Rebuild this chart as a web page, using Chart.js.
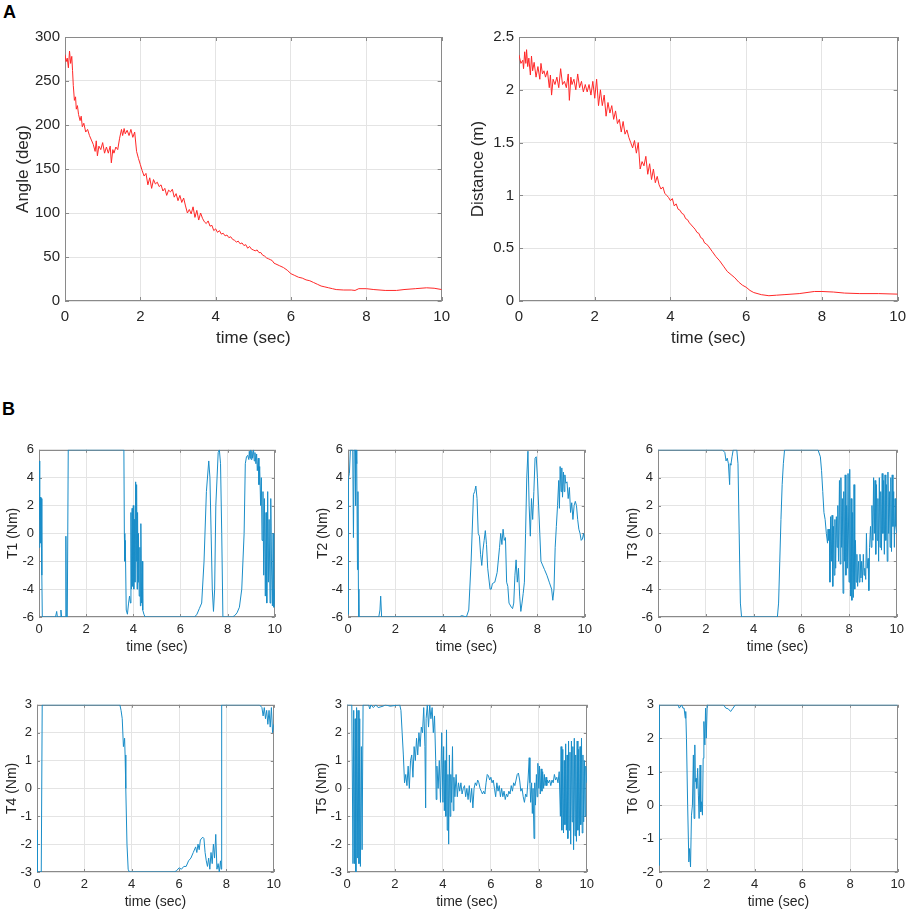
<!DOCTYPE html>
<html>
<head>
<meta charset="utf-8">
<script src="https://cdn.jsdelivr.net/npm/chart.js@4.4.1/dist/chart.umd.min.js"></script>
<style>
  html, body { margin: 0; padding: 0; background: #fff; }
  body { width: 913px; height: 913px; position: relative; overflow: hidden; font-family: "Liberation Sans", Arial, sans-serif; }
  .panel { position: absolute; }
  .tag { position: absolute; font-weight: bold; font-size: 18px; color: #000; line-height: 1; }
</style>
</head>
<body>
<div class="tag" style="left:3px;top:3px">A</div>
<div class="tag" style="left:2px;top:400px">B</div>
<div class="panel" id="p_angle"><canvas id="c_angle"></canvas></div>
<div class="panel" id="p_dist"><canvas id="c_dist"></canvas></div>
<div class="panel" id="p_t1"><canvas id="c_t1"></canvas></div>
<div class="panel" id="p_t2"><canvas id="c_t2"></canvas></div>
<div class="panel" id="p_t3"><canvas id="c_t3"></canvas></div>
<div class="panel" id="p_t4"><canvas id="c_t4"></canvas></div>
<div class="panel" id="p_t5"><canvas id="c_t5"></canvas></div>
<div class="panel" id="p_t6"><canvas id="c_t6"></canvas></div>
<script>
// tick values
const timeTicks = [0, 2, 4, 6, 8, 10];
const angleTicks = [0, 50, 100, 150, 200, 250, 300];
const distTicks = [0, 0.5, 1, 1.5, 2, 2.5];
const torque6Ticks = [-6, -4, -2, 0, 2, 4, 6];
const torque3Ticks = [-3, -2, -1, 0, 1, 2, 3];
const t6Ticks = [-2, -1, 0, 1, 2, 3];

// [time (sec), value]
const angle = [[0,280],[0.03,272],[0.06,276],[0.09,265],[0.12,284],[0.15,270],[0.18,278],[0.2,262],[0.22,245],[0.25,228],
  [0.28,232],[0.3,218],[0.33,222],[0.36,212],[0.4,205],[0.43,210],[0.46,198],[0.5,202],[0.55,192],[0.6,195],[0.65,188],
  [0.7,183],[0.75,178],[0.8,170],[0.83,182],[0.86,165],[0.9,176],[0.95,172],[1.0,180],[1.05,168],[1.1,175],[1.15,168],
  [1.2,176],[1.23,157],[1.27,172],[1.3,168],[1.35,175],[1.4,172],[1.45,185],[1.5,195],[1.53,188],[1.57,196],[1.6,190],
  [1.65,194],[1.7,188],[1.75,195],[1.8,186],[1.85,192],[1.9,170],[1.95,162],[2.0,155],[2.05,148],[2.1,142],[2.15,145],
  [2.2,132],[2.25,140],[2.3,128],[2.35,138],[2.4,133],[2.45,135],[2.5,130],[2.55,132],[2.6,125],[2.65,128],[2.7,120],
  [2.75,126],[2.8,124],[2.85,127],[2.9,118],[2.95,122],[3.0,114],[3.05,120],[3.1,112],[3.15,117],[3.2,108],[3.25,100],
  [3.3,104],[3.35,99],[3.4,107],[3.45,95],[3.5,103],[3.55,92],[3.6,100],[3.65,94],[3.7,90],[3.75,88],[3.8,91],[3.85,85],
  [3.9,86],[3.95,80],[4.0,82],[4.05,78],[4.1,80],[4.15,76],[4.2,77],[4.25,74],[4.3,75],[4.35,72],[4.4,73],[4.45,70],
  [4.5,69],[4.55,67],[4.6,68],[4.65,65],[4.7,66],[4.75,63],[4.8,64],[4.85,60],[4.9,62],[4.95,59],[5.0,58],[5.05,57],
  [5.1,58],[5.15,55],[5.2,55],[5.25,52],[5.3,51],[5.35,49],[5.4,48],[5.45,47],[5.5,46],[5.55,43],[5.6,42],[5.7,40],
  [5.8,38],[5.9,35],[6.0,31],[6.1,29],[6.2,27],[6.3,26],[6.4,24],[6.5,23],[6.6,21],[6.7,19],[6.8,17],[6.9,16],[7.0,15],
  [7.1,14],[7.2,13],[7.4,12.5],[7.6,12.5],[7.7,12],[7.8,14],[8.0,14],[8.2,13],[8.5,12],[8.8,12],[9.0,13],[9.3,14],
  [9.6,15],[9.8,14.5],[10,13]];

const distance = [[0,2.33],[0.05,2.25],[0.1,2.28],[0.12,2.2],[0.15,2.36],[0.18,2.25],[0.2,2.38],[0.23,2.22],[0.26,2.3],
  [0.3,2.14],[0.33,2.32],[0.36,2.18],[0.4,2.26],[0.45,2.12],[0.5,2.22],[0.55,2.1],[0.58,2.25],[0.62,2.15],[0.66,2.18],
  [0.7,2.12],[0.75,2.18],[0.8,2.02],[0.83,2.14],[0.86,1.95],[0.9,2.1],[0.95,2.05],[1.0,2.12],[1.05,2.02],[1.1,2.2],
  [1.15,2.05],[1.2,2.08],[1.25,2.02],[1.3,2.15],[1.33,1.9],[1.37,2.12],[1.4,2.05],[1.45,2.1],[1.5,2.0],[1.55,2.15],
  [1.6,2.02],[1.65,2.08],[1.7,1.98],[1.75,2.05],[1.8,1.98],[1.85,2.05],[1.9,1.95],[1.95,2.08],[2.0,1.92],[2.05,2.1],
  [2.1,1.85],[2.15,2.0],[2.2,1.85],[2.25,1.95],[2.3,1.75],[2.35,1.88],[2.4,1.78],[2.45,1.85],[2.5,1.72],[2.55,1.8],
  [2.6,1.68],[2.65,1.72],[2.7,1.6],[2.75,1.7],[2.8,1.58],[2.85,1.62],[2.9,1.55],[2.95,1.5],[3.0,1.45],[3.05,1.52],
  [3.1,1.4],[3.15,1.5],[3.2,1.25],[3.25,1.32],[3.3,1.28],[3.35,1.37],[3.4,1.2],[3.45,1.3],[3.5,1.15],[3.55,1.25],
  [3.6,1.12],[3.65,1.18],[3.7,1.1],[3.75,1.06],[3.8,1.08],[3.85,1.02],[3.9,1.0],[3.95,0.98],[4.0,0.95],[4.05,0.97],
  [4.1,0.9],[4.15,0.92],[4.2,0.87],[4.25,0.86],[4.3,0.83],[4.35,0.82],[4.4,0.78],[4.45,0.77],[4.5,0.74],[4.55,0.72],
  [4.6,0.7],[4.65,0.68],[4.7,0.65],[4.75,0.64],[4.8,0.6],[4.85,0.59],[4.9,0.55],[4.95,0.54],[5.0,0.52],[5.1,0.47],
  [5.2,0.42],[5.3,0.38],[5.4,0.33],[5.5,0.28],[5.6,0.25],[5.7,0.22],[5.8,0.18],[5.9,0.15],[6.0,0.13],[6.1,0.1],
  [6.2,0.08],[6.4,0.06],[6.6,0.05],[6.8,0.055],[7.0,0.06],[7.4,0.07],[7.8,0.09],[8.0,0.09],[8.3,0.085],[8.6,0.075],
  [9.0,0.07],[9.5,0.07],[10,0.065]];

const torque1 = [[0,-1],[0.02,5.2],[0.04,1],[0.06,2.6],[0.08,-0.7],[0.1,2.5],[0.12,-3],[0.14,-6],[0.7,-6],[0.75,-5.6],
  [0.78,-6],[0.9,-6],[0.93,-5.5],[0.96,-6],[1.12,-6],[1.14,-0.2],[1.16,-6],[1.2,-6],[1.24,6],[3.6,6],[3.62,0],[3.64,-2],
  [3.66,-0.5],[3.7,-5.5],[3.75,-5.8],[3.8,-5],[3.84,-4.5],[3.88,-5],[3.9,1.5],[3.92,-4],[3.95,1.8],[3.98,-3.8],[4.0,2],
  [4.02,-4],[4.05,1],[4.07,-3.5],[4.1,3.7],[4.12,-2],[4.14,3.5],[4.16,-4],[4.18,1.5],[4.2,-3.5],[4.22,0],[4.25,-4.5],
  [4.28,-1],[4.3,-5.2],[4.32,0.7],[4.35,-5],[4.38,-2],[4.4,-5.5],[4.45,-5.8],[4.5,-6],[6.6,-6],[6.7,-5.8],[6.8,-5.4],
  [6.9,-5],[7.0,-2],[7.1,3],[7.2,5.2],[7.25,4],[7.3,0],[7.35,-4],[7.4,-5.6],[7.45,-4],[7.5,2],[7.6,5.8],[7.65,6],
  [7.7,5],[7.75,0],[7.8,-6],[8.2,-6],[8.3,-5.9],[8.4,-5.7],[8.5,-5.3],[8.6,-4],[8.7,0],[8.75,5],[8.8,5.5],[8.85,5.6],
  [8.9,5.3],[8.92,5.9],[8.95,5.4],[8.98,6],[9.0,5.3],[9.03,5.9],[9.06,5.4],[9.1,6],[9.13,5.2],[9.16,5.8],[9.2,5],
  [9.23,5.7],[9.26,4.5],[9.3,5.4],[9.33,3.5],[9.36,4.8],[9.4,2],[9.43,4],[9.46,-0.5],[9.5,3],[9.53,-3],[9.56,2.5],
  [9.6,-4.5],[9.63,1.5],[9.66,-5],[9.7,3],[9.73,-3.5],[9.76,1],[9.8,-5],[9.83,2.5],[9.86,-2],[9.9,-5.2],[9.93,0],
  [9.96,-5.3],[10,-4]];

const torque2 = [[0,-5.8],[0.02,4],[0.06,4.3],[0.1,6],[0.2,6],[0.23,-0.3],[0.26,6],[0.3,6],[0.32,2],[0.34,6],[0.37,5],
  [0.4,-2.6],[0.42,3],[0.44,-4],[0.46,-6],[1.3,-6],[1.35,-5.5],[1.38,-4.5],[1.42,-6],[4.7,-6],[4.8,-5.9],[5.0,-6],
  [5.1,-5.5],[5.2,-2],[5.3,2.8],[5.35,3],[5.4,3.4],[5.45,2.5],[5.5,0],[5.55,-0.2],[5.6,-1.5],[5.65,-2.3],[5.7,-1.2],
  [5.75,-0.5],[5.8,0.2],[5.85,-0.8],[5.9,-2.5],[6.0,-4],[6.05,-4],[6.1,-3.6],[6.2,-3.5],[6.3,-2.8],[6.4,-1],[6.45,0],
  [6.5,-0.8],[6.55,0.3],[6.6,-0.5],[6.65,-0.3],[6.7,-3.5],[6.75,-3.8],[6.8,-5],[6.9,-5.3],[6.95,-5.4],[7.0,-5],
  [7.05,-3],[7.1,-1.9],[7.15,-3.5],[7.2,-2.5],[7.25,-4.5],[7.3,-5.6],[7.35,-5],[7.4,-4.3],[7.45,-3.5],[7.5,0],[7.55,4],
  [7.6,5.9],[7.65,2],[7.7,-0.2],[7.75,2.5],[7.8,1],[7.85,3],[7.9,5.4],[7.95,5.5],[8.0,4],[8.1,0],[8.15,-2],[8.2,-2.2],
  [8.3,-2.6],[8.4,-3],[8.5,-3.5],[8.6,-4],[8.65,-4.8],[8.7,-4],[8.75,-1],[8.8,0.5],[8.85,2],[8.9,3.8],[8.93,1.8],
  [8.96,4.8],[9.0,3],[9.03,4.7],[9.06,2.6],[9.1,4.4],[9.13,3],[9.16,4.2],[9.2,3.6],[9.25,3.7],[9.3,2.5],[9.35,3.3],
  [9.4,1.5],[9.45,2.2],[9.5,1],[9.55,2],[9.6,2.3],[9.65,2],[9.7,1],[9.75,0.3],[9.8,0],[9.85,-0.5],[9.9,-0.4],
  [9.95,0],[10,-0.5]];

const torque3 = [[0,6],[2.7,6],[2.8,5.8],[2.85,5.2],[2.9,5.4],[2.95,5],[3.0,3.5],[3.02,5],[3.05,4.9],[3.1,5.5],
  [3.15,6],[3.3,6],[3.35,5],[3.4,0],[3.45,-5],[3.5,-6],[5.0,-6],[5.05,-5],[5.1,-2],[5.15,1],[5.2,3.5],[5.25,5],
  [5.3,6],[6.7,6],[6.8,5.5],[6.85,4.5],[6.9,3],[6.95,1.5],[7.0,1],[7.05,0],[7.1,-0.7],[7.12,0.3],[7.15,-0.5],
  [7.18,0.3],[7.2,-3.5],[7.23,1.2],[7.26,-2],[7.29,1.3],[7.32,-3.8],[7.35,0.5],[7.38,-3],[7.41,1],[7.44,-2.5],
  [7.47,1.2],[7.5,-1],[7.53,2],[7.56,-2],[7.6,3.8],[7.63,-2.2],[7.66,4],[7.69,-1],[7.72,2.5],[7.75,-4.3],[7.78,3],
  [7.81,-2],[7.84,4.2],[7.87,-3],[7.9,2],[7.93,-2.5],[7.96,4.3],[8.0,-3.5],[8.03,4.6],[8.06,-4.5],[8.09,2.5],
  [8.12,-4.8],[8.15,1.5],[8.18,-4.6],[8.21,3.5],[8.24,-4],[8.27,-0.5],[8.3,-3.5],[8.33,-1.5],[8.36,-3.8],[8.4,-2],
  [8.43,-3.5],[8.46,-1.5],[8.5,-3.2],[8.53,-2],[8.56,-3.5],[8.6,-1.5],[8.63,-3],[8.66,-2.5],[8.7,-3.3],[8.73,0],
  [8.76,-2.5],[8.8,-1.8],[8.83,-4.1],[8.86,-1],[8.9,0.5],[8.93,-1],[8.96,2],[9.0,-0.5],[9.03,4],[9.06,0],[9.09,3.8],
  [9.12,-1.5],[9.15,3.5],[9.18,-0.5],[9.21,2.5],[9.24,-2],[9.27,4],[9.3,-1],[9.33,3],[9.36,-1.2],[9.39,4.3],[9.42,0],
  [9.45,3.8],[9.48,-1.5],[9.51,4.2],[9.54,-0.5],[9.57,3.5],[9.6,-2],[9.63,4.4],[9.66,0],[9.69,3],[9.72,-1],[9.75,4],
  [9.78,-1.3],[9.81,4.2],[9.84,0.5],[9.87,3],[9.9,-1],[9.93,2.5],[9.96,0.5],[10,0]];

const torque4 = [[0,-1.5],[0.02,-3],[0.18,-3],[0.22,3],[3.5,3],[3.55,2.8],[3.6,2.5],[3.65,1.5],[3.7,1.8],[3.72,1.2],
  [3.75,0],[3.8,-2],[3.85,-2.9],[3.9,-3],[5.8,-3],[5.9,-2.95],[6.0,-2.85],[6.1,-2.9],[6.2,-2.8],[6.3,-2.8],[6.4,-2.6],
  [6.5,-2.5],[6.6,-2.3],[6.7,-2.1],[6.75,-2.3],[6.8,-2],[6.85,-2.2],[6.9,-1.85],[7.0,-1.75],[7.05,-1.8],[7.1,-2.3],
  [7.15,-2.6],[7.2,-2.8],[7.25,-2.5],[7.3,-2.9],[7.35,-2.3],[7.4,-2.7],[7.45,-2],[7.5,-2.5],[7.55,-1.65],[7.6,-2.9],
  [7.65,-2.7],[7.7,-3],[7.75,-2.6],[7.78,-2.9],[7.8,3],[9.4,3],[9.5,2.9],[9.55,2.6],[9.6,2.9],[9.65,2.5],[9.7,2.8],
  [9.75,2.3],[9.8,2.8],[9.85,2.2],[9.9,2.9],[9.95,2],[10,2.3]];

const torque5 = [[0,3],[0.2,3],[0.25,-2.7],[0.28,2.8],[0.31,-2.7],[0.34,2.5],[0.37,-3],[0.4,2.9],[0.43,-2.5],[0.46,2.8],
  [0.5,-2.7],[0.53,2.5],[0.56,-2.8],[0.6,1.5],[0.63,-2.2],[0.67,3],[0.9,3],[0.95,2.85],[1.0,3],[1.1,2.9],[1.2,3],
  [1.3,2.9],[1.5,2.95],[1.6,3],[1.8,2.95],[2.2,3],[2.25,2.8],[2.3,2],[2.35,1.2],[2.4,0.2],[2.45,0.5],[2.5,0.1],
  [2.55,0.8],[2.6,0],[2.65,1],[2.7,1.2],[2.75,0.4],[2.8,1.5],[2.85,1],[2.9,1.8],[2.95,1.2],[3.0,2],[3.05,1.5],[3.1,2.2],
  [3.15,2],[3.2,2.9],[3.25,1.5],[3.28,-0.7],[3.3,2.5],[3.35,3],[3.4,2.2],[3.45,3],[3.5,2.5],[3.55,2.9],[3.6,2],
  [3.65,2.6],[3.7,1],[3.72,-0.4],[3.75,0.8],[3.8,0],[3.85,1],[3.9,-0.5],[3.95,2],[4.0,-0.5],[4.03,1.5],[4.06,-0.8],
  [4.09,1],[4.12,-1],[4.15,2.1],[4.18,-1.5],[4.21,0.5],[4.24,-2],[4.27,1.2],[4.3,-1],[4.33,0.5],[4.36,-0.5],[4.4,1.5],
  [4.43,-0.8],[4.46,0.4],[4.5,-0.3],[4.55,0.5],[4.6,-0.3],[4.65,0.2],[4.7,-0.1],[4.75,0.2],[4.8,-0.2],[4.85,0],
  [4.9,0.1],[4.95,-0.3],[5.0,0],[5.05,-0.4],[5.1,0.1],[5.15,-0.5],[5.2,0],[5.25,-0.7],[5.3,0],[5.35,0.2],[5.4,0.1],
  [5.45,0.3],[5.5,0.2],[5.55,0],[5.6,-0.1],[5.65,-0.2],[5.7,-0.1],[5.75,-0.2],[5.8,0.2],[5.85,0.5],[5.9,0.45],
  [5.95,0.3],[6.0,0.4],[6.05,0.2],[6.1,0.3],[6.15,0],[6.2,-0.3],[6.25,0.2],[6.3,-0.1],[6.35,0.1],[6.4,-0.3],[6.45,0],
  [6.5,-0.3],[6.55,-0.1],[6.6,-0.4],[6.65,-0.2],[6.7,-0.3],[6.75,-0.1],[6.8,-0.2],[6.85,0.1],[6.9,-0.1],[6.95,0.2],
  [7.0,0.1],[7.05,0.3],[7.1,0.5],[7.15,0.55],[7.2,0.3],[7.25,-0.1],[7.3,0],[7.35,-0.3],[7.4,-0.5],[7.45,-0.2],
  [7.5,-0.3],[7.55,0.3],[7.6,1.1],[7.63,0.2],[7.66,-0.5],[7.7,0.2],[7.73,-0.9],[7.76,0],[7.8,-1.8],[7.83,0.2],
  [7.86,-0.6],[7.9,0.5],[7.93,-0.3],[7.96,0.9],[8.0,0],[8.03,0.8],[8.06,-0.2],[8.1,0.7],[8.13,-0.1],[8.16,0.6],[8.2,0],
  [8.23,0.5],[8.26,0.1],[8.3,0.4],[8.33,0.1],[8.36,0.3],[8.4,0.2],[8.45,0.3],[8.5,0.1],[8.55,0.3],[8.6,0.2],[8.65,0.5],
  [8.7,0.3],[8.75,0.4],[8.8,0.2],[8.85,0.6],[8.9,-1],[8.93,1.5],[8.96,-1.5],[9.0,1.4],[9.03,-1.6],[9.06,1],[9.09,-1.3],
  [9.12,1.6],[9.15,-1.5],[9.18,1.2],[9.21,-1.8],[9.24,1.7],[9.27,-1.5],[9.3,1.3],[9.33,-2],[9.36,1.7],[9.39,-1.2],
  [9.42,1.5],[9.45,-2.2],[9.48,1.8],[9.51,-1.7],[9.54,1.2],[9.57,-1.9],[9.6,1.7],[9.63,-1.5],[9.66,1.4],[9.69,-1.7],
  [9.72,1.5],[9.75,-1.3],[9.78,1.8],[9.81,-1.6],[9.84,1.2],[9.87,-1.2],[9.9,1],[9.93,-1],[9.96,0.8],[10,0.2]];

const torque6 = [[0,-1.8],[0.02,3],[0.8,3],[0.85,2.9],[0.95,3],[1.0,2.9],[1.05,2.9],[1.1,2.6],[1.12,2.8],[1.15,2],
  [1.2,0],[1.25,-1.7],[1.28,-1.3],[1.32,-1.85],[1.36,-0.3],[1.4,0],[1.44,1.5],[1.47,-0.4],[1.5,1.8],[1.52,0.7],
  [1.55,0.8],[1.58,0.5],[1.62,1.1],[1.65,0.3],[1.68,-0.4],[1.72,1.2],[1.75,-0.2],[1.78,0.1],[1.82,-0.3],[1.85,1.4],
  [1.88,2.5],[1.92,1.8],[1.95,2.9],[1.98,2],[2.02,3],[2.7,3],[2.8,2.9],[2.9,2.88],[3.0,2.8],[3.1,2.9],[3.2,3],[10,3]];

const RED = 'rgb(255,40,40)';
const BLUE = '#1a8dc8';
const FONT = '"Liberation Sans", Arial, sans-serif';
const INK = '#262626';

// axes box with inward tick marks, drawn under the data like MATLAB's box
const boxPlugin = {
  id: 'box',
  beforeDatasetsDraw(chart, args, opts) {
    const { ctx, chartArea: a, scales: { x, y } } = chart;
    const L = opts.tick || 3;
    ctx.save();
    ctx.strokeStyle = '#8a8a8a';
    ctx.lineWidth = 1;
    ctx.beginPath();
    x.ticks.forEach(t => {
      const px = Math.round(x.getPixelForValue(t.value)) + 0.5;
      ctx.moveTo(px, a.bottom); ctx.lineTo(px, a.bottom - L);
      ctx.moveTo(px, a.top); ctx.lineTo(px, a.top + L);
    });
    y.ticks.forEach(t => {
      const py = Math.round(y.getPixelForValue(t.value)) + 0.5;
      ctx.moveTo(a.left, py); ctx.lineTo(a.left + L, py);
      ctx.moveTo(a.right, py); ctx.lineTo(a.right - L, py);
    });
    ctx.stroke();
    ctx.strokeRect(Math.round(a.left) + 0.5, Math.round(a.top) + 0.5, Math.round(a.width) - 1, Math.round(a.height) - 1);
    ctx.restore();
  }
};

const plainNum = v => String(+Number(v).toFixed(3));

function makePlot(p) {
  // p.area = [left, top, right, bottom] of the plot box in page pixels
  const [l, t, r, b] = p.area;
  const box = document.getElementById('p_' + p.id);
  box.style.left = (l - p.yw) + 'px';
  box.style.top = (t - p.padTop) + 'px';
  box.style.width = (r - l + p.yw + p.padRight) + 'px';
  box.style.height = (b - t + p.padTop + p.xh) + 'px';

  new Chart(document.getElementById('c_' + p.id), {
    type: 'line',
    data: {
      datasets: [{
        data: p.data.map(d => ({ x: d[0], y: d[1] })),
        borderColor: p.color,
        borderWidth: p.lw,
        pointRadius: 0,
        tension: 0,
        fill: false
      }]
    },
    options: {
      responsive: true,
      maintainAspectRatio: false,
      animation: false,
      events: [],
      layout: { padding: { top: p.padTop, right: p.padRight, left: 0, bottom: 0 } },
      plugins: { legend: { display: false }, tooltip: { enabled: false }, box: { tick: p.tick } },
      scales: {
        x: {
          type: 'linear', min: 0, max: 10,
          afterBuildTicks: s => { s.ticks = timeTicks.map(v => ({ value: v })); },
          afterFit: s => { s.height = p.xh; },
          grid: { color: '#e4e4e4', drawTicks: false },
          border: { display: false },
          ticks: { autoSkip: false, maxRotation: 0, padding: p.xPad, color: INK, callback: plainNum,
                   font: { family: FONT, size: p.tickSize } },
          title: { display: true, text: 'time (sec)', color: INK, padding: { top: 0, bottom: 2 }, font: { family: FONT, size: p.titleSize } }
        },
        y: {
          type: 'linear', min: p.yTicks[0], max: p.yTicks[p.yTicks.length - 1],
          afterBuildTicks: s => { s.ticks = p.yTicks.map(v => ({ value: v })); },
          afterFit: s => { s.width = p.yw; },
          grid: { color: '#e4e4e4', drawTicks: false },
          border: { display: false },
          ticks: { autoSkip: false, padding: 5, color: INK, callback: plainNum, font: { family: FONT, size: p.tickSize } },
          title: { display: true, text: p.yLabel, color: INK, padding: { top: p.yTitlePad, bottom: 0 }, font: { family: FONT, size: p.titleSize } }
        }
      }
    },
    plugins: [boxPlugin]
  });
}

const bigA = { yw: 65, xh: 50, padTop: 10, padRight: 10, tickSize: 15, titleSize: 17, xPad: 7, tick: 4, lw: 1, color: RED };
makePlot(Object.assign({}, bigA, { id: 'angle', area: [65, 33, 447, 301], yTicks: angleTicks, yLabel: 'Angle (deg)', yTitlePad: 13, data: angle }));
makePlot(Object.assign({}, bigA, { id: 'dist', yw: 63, area: [519, 33, 903, 301], yTicks: distTicks, yLabel: 'Distance (m)', yTitlePad: 12, data: distance }));

const small = { xh: 41, padTop: 10, padRight: 10, tickSize: 13, titleSize: 14, xPad: 5, tick: 3, lw: 1, color: BLUE };
makePlot(Object.assign({}, small, { id: 't1', yw: 39, area: [39, 447, 277, 617], yTicks: torque6Ticks, yLabel: 'T1 (Nm)', yTitlePad: 5, data: torque1 }));
makePlot(Object.assign({}, small, { id: 't2', yw: 45, area: [348, 447, 587, 617], yTicks: torque6Ticks, yLabel: 'T2 (Nm)', yTitlePad: 12, data: torque2 }));
makePlot(Object.assign({}, small, { id: 't3', yw: 45, area: [658, 447, 899, 617], yTicks: torque6Ticks, yLabel: 'T3 (Nm)', yTitlePad: 12, data: torque3 }));
makePlot(Object.assign({}, small, { id: 't4', yw: 37, area: [37, 702, 276, 872], yTicks: torque3Ticks, yLabel: 'T4 (Nm)', yTitlePad: 4, data: torque4 }));
makePlot(Object.assign({}, small, { id: 't5', yw: 45, area: [347, 702, 589, 872], yTicks: torque3Ticks, yLabel: 'T5 (Nm)', yTitlePad: 12, data: torque5 }));
makePlot(Object.assign({}, small, { id: 't6', yw: 45, area: [659, 702, 900, 872], yTicks: t6Ticks, yLabel: 'T6 (Nm)', yTitlePad: 11, data: torque6 }));
</script>
</body>
</html>
